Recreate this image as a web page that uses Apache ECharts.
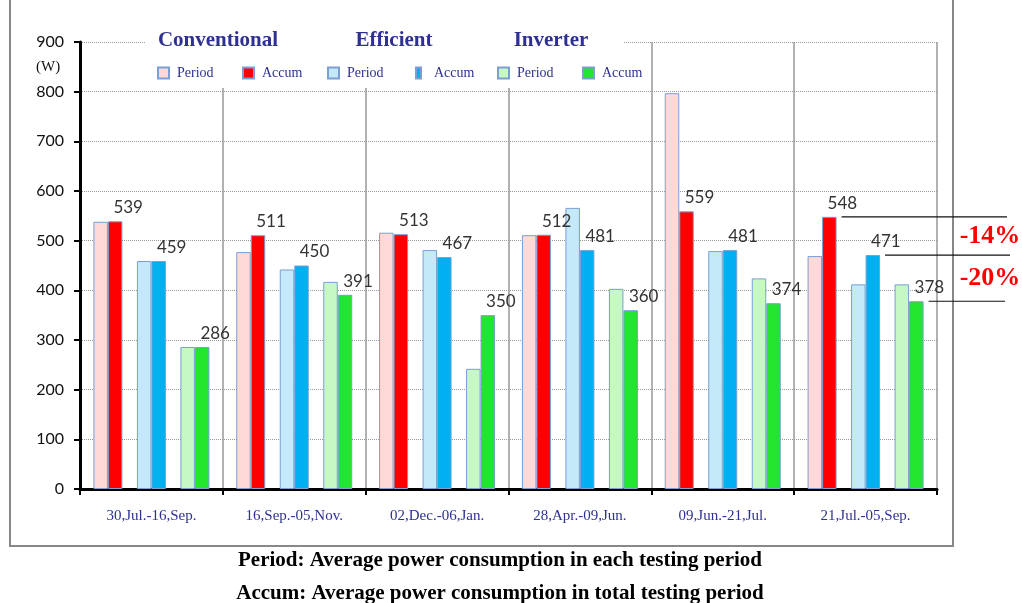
<!DOCTYPE html>
<html>
<head>
<meta charset="utf-8">
<script src="https://cdn.jsdelivr.net/npm/echarts@6/dist/echarts.min.js"></script>
<style>
  html, body { margin: 0; padding: 0; background: #fff; }
  #chart { width: 1022px; height: 603px; }
</style>
</head>
<body>
<div id="chart"></div>
<script>
// testing periods
const categories = ['30,Jul.-16,Sep.', '16,Sep.-05,Nov.', '02,Dec.-06,Jan.', '28,Apr.-09,Jun.', '09,Jun.-21,Jul.', '21,Jul.-05,Sep.']
// average power (W)
const convPeriod = [538, 477, 516, 511, 797, 469]
const convAccum = [539, 511, 513, 512, 559, 548]
const effPeriod = [459, 442, 481, 566, 479, 412]
const effAccum = [459, 450, 467, 481, 481, 471]
const invPeriod = [286, 417, 242, 403, 424, 412]
const invAccum = [286, 391, 350, 360, 374, 378]
const groups = ['Conventional', 'Efficient', 'Inverter']
const reductions = ['-14%', '-20%']

const BAR_W = 14.5
const NAVY = '#2E3192'
const SERIF = '"Liberation Serif", "Times New Roman", serif'
const SANS = 'Lato, "Open Sans", sans-serif'
const EDGE = '#7B9ED3'

const chart = echarts.init(document.getElementById('chart'))

function bars (name, data, color, showLabel) {
  return {
    name: name,
    type: 'bar',
    barWidth: BAR_W,
    barGap: '0%',
    data: data,
    itemStyle: { color: color, borderColor: EDGE, borderWidth: 1 },
    label: {
      show: showLabel,
      position: 'top',
      distance: 5,
      offset: [13, 0],
      color: '#333',
      fontFamily: SANS,
      fontSize: 17
    },
    z: 3
  }
}
// empty series only to leave a gap between the pairs
function spacer (name) {
  return { name: name, type: 'bar', barWidth: BAR_W, barGap: '0%', data: categories.map(() => '-') }
}

const series = [
  bars('convPeriod', convPeriod, '#FFD8D8', false),
  bars('convAccum', convAccum, '#FF0000', true),
  spacer('gap1'),
  bars('effPeriod', effPeriod, '#C4EAFA', false),
  bars('effAccum', effAccum, '#00B0F0', true),
  spacer('gap2'),
  bars('invPeriod', invPeriod, '#C6F8C6', false),
  bars('invAccum', invAccum, '#22E52E', true)
]

// one legend per item so each sits where the original has it
const legendPos = [152, 237, 322, 410, 492, 577]
const legendNames = ['convPeriod', 'convAccum', 'effPeriod', 'effAccum', 'invPeriod', 'invAccum']
const legends = legendNames.map((n, i) => ({
  data: [n],
  left: legendPos[i],
  top: 61,
  icon: 'rect',
  itemWidth: i === 3 ? 5 : 11,
  itemHeight: 11,
  itemGap: 10,
  selectedMode: false,
  z: 10,
  formatter: () => (i % 2 === 0 ? 'Period' : 'Accum'),
  textStyle: { color: NAVY, fontFamily: SERIF, fontSize: 14, padding: [0, 0, 0, i === 3 ? 8 : 3] }
}))

const groupX = [218, 394, 551]

chart.setOption({
  animation: false,
  grid: { left: 80, right: 85, top: 42, bottom: 114 },
  legend: legends,
  xAxis: {
    type: 'category',
    data: categories,
    axisLine: { lineStyle: { color: '#000', width: 3 } },
    axisTick: { show: true, length: 6, lineStyle: { color: '#000', width: 2 } },
    axisLabel: { color: NAVY, fontFamily: SERIF, fontSize: 15, margin: 20 },
    splitLine: { show: true, lineStyle: { color: '#999', width: 1.5 } }
  },
  yAxis: {
    type: 'value',
    min: 0,
    max: 900,
    interval: 100,
    axisLine: { show: true, lineStyle: { color: '#000', width: 3 } },
    axisTick: { show: true, length: 6, lineStyle: { color: '#000', width: 2 } },
    axisLabel: { color: '#111', fontFamily: SANS, fontSize: 16, margin: 16 },
    splitLine: { lineStyle: { color: '#999', type: 'dotted', width: 1 } }
  },
  series: series
})

// annotation lines at the last period's accum levels, placed through the axes
const last = categories.length - 1
const cx = chart.convertToPixel({ xAxisIndex: 0 }, categories[last])
const groupStart = cx - 4 * BAR_W
const accumEnds = [groupStart + 2 * BAR_W, groupStart + 5 * BAR_W, groupStart + 8 * BAR_W]
const levels = [convAccum[last], effAccum[last], invAccum[last]].map(v => chart.convertToPixel({ yAxisIndex: 0 }, v))
const lineEnds = [1007, 1010, 1005]

const graphic = [
  // outer frame
  { type: 'rect', shape: { x: 10, y: -2, width: 943, height: 548 }, style: { fill: 'none', stroke: '#888', lineWidth: 2 }, z: 1 },
  // white panel behind the legend
  { type: 'rect', shape: { x: 146, y: 26, width: 478, height: 62 }, style: { fill: '#fff' }, z: 2, silent: true },
  { type: 'text', left: 36, top: 60, style: { text: '(W)', font: '15px ' + SERIF, fill: '#111' }, z: 6 }
]
groups.forEach((g, i) => {
  graphic.push({
    type: 'text', x: groupX[i], y: 41,
    style: { text: g, font: 'bold 21px ' + SERIF, fill: NAVY, align: 'center', verticalAlign: 'middle' },
    z: 6
  })
})
levels.forEach((y, i) => {
  graphic.push({
    type: 'line',
    shape: { x1: accumEnds[i] + 5, y1: y, x2: lineEnds[i], y2: y },
    style: { stroke: '#111', lineWidth: 1.2 },
    z: 6
  })
})
reductions.forEach((r, i) => {
  graphic.push({
    type: 'text', x: 990, y: (levels[i] + levels[i + 1]) / 2,
    style: { text: r, font: 'bold 26px ' + SERIF, fill: '#FF0000', align: 'center', verticalAlign: 'middle' },
    z: 6
  })
})
graphic.push({
  type: 'text', x: 500, y: 561,
  style: { text: 'Period: Average power consumption in each testing period', font: 'bold 21px ' + SERIF, fill: '#000', align: 'center', verticalAlign: 'middle' }
})
graphic.push({
  type: 'text', x: 500, y: 594,
  style: { text: 'Accum: Average power consumption in total testing period', font: 'bold 21px ' + SERIF, fill: '#000', align: 'center', verticalAlign: 'middle' }
})

chart.setOption({ graphic: graphic })
</script>
</body>
</html>
